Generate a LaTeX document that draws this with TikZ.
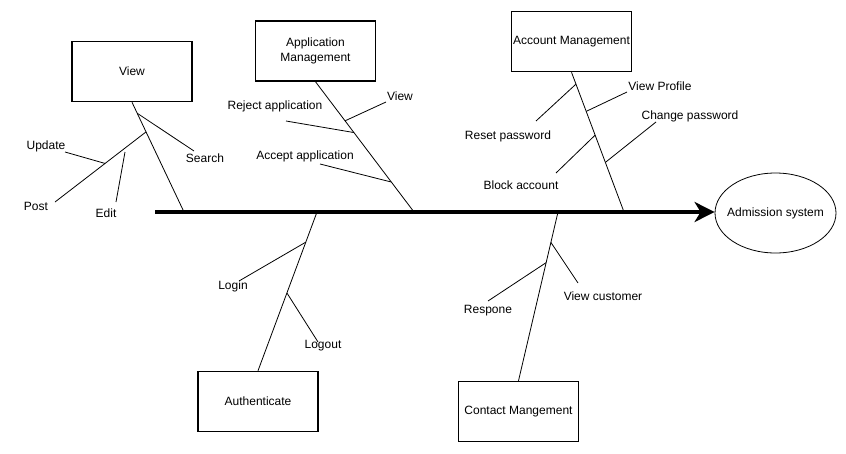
\documentclass[tikz,border=0pt]{standalone}
\usepackage{fontspec}
\setmainfont{Liberation Sans}
\usetikzlibrary{arrows.meta,shapes.geometric,calc}

\begin{document}
\begin{tikzpicture}[x=1pt,y=-1pt,font=\fontsize{12}{15}\selectfont,
    box/.style={draw, line width=1.5pt, minimum width=120pt, minimum height=60pt, inner sep=0pt, align=center},
    bone/.style={line width=0.8pt},
    lbl/.style={inner sep=1pt}]
	  % Canvas
	  \useasboundingbox (0,0) rectangle (846,453);
	  \def\spiney{212}
	
	  % Head of the fish
	  \node[ellipse, draw, line width=0.8pt, minimum width=121pt, minimum height=80pt, inner xsep=-6pt, inner ysep=0pt] (sys) at (775.5,213) {Admission system};
	
	  % Spine
	  \coordinate (tail) at (155,\spiney);
	  \draw[line width=3.5pt, -{Stealth[length=20pt,width=20pt,inset=6pt]}] (tail) -- (tail -| sys.west);
	
	  % Category boxes
	  \node[box] (view) at (132,71.5) {View};
	  \node[box] (appm) at (315.5,51) {Application\\Management};
	  \node[box] (acct) at (571.5,41.5) {Account Management};
	  \node[box] (auth) at (258,401.5) {Authenticate};
	  \node[box] (cont) at (518.5,411.5) {Contact Mangement};
	
	  % Main bones
	  \coordinate (v0) at (184,\spiney);
	  \coordinate (p0) at (414,\spiney);
	  \coordinate (c0) at (624,\spiney);
	  \coordinate (a0) at (317,\spiney);
	  \coordinate (m0) at (558,\spiney);
	  \draw[bone] (view.south) -- (v0);
	  \draw[bone] (appm.south) -- (p0);
	  \draw[bone] (acct.south) -- (c0);
	  \draw[bone] (a0) -- (auth.north);
	  \draw[bone] (m0) -- (cont.north);
	
	  % View branches
	  \coordinate (vsearch) at ($(view.south)!0.10!(v0)$);
	  \coordinate (vpost) at ($(view.south)!0.27!(v0)$);
	  \coordinate (vpostend) at (55,202);
	  \coordinate (vupd) at ($(vpost)!0.45!(vpostend)$);
	  \draw[bone] (vsearch) -- (194,151);
	  \draw[bone] (vpost) -- (vpostend);
	  \draw[bone] (65,152) -- (vupd);
	  \draw[bone] (125,152) -- (116,202);
	  \node[lbl] (search) at (205,158) {Search};
	  \node[lbl] (update) at (46,146) {Update};
	  \node[lbl] (post) at (36,206) {Post};
	  \node[lbl] (edit) at (106,213) {Edit};
	
	  % Application Management branches
	  \coordinate (pview) at ($(appm.south)!0.30!(p0)$);
	  \coordinate (preject) at ($(appm.south)!0.39!(p0)$);
	  \coordinate (paccept) at ($(appm.south)!0.77!(p0)$);
	  \draw[bone] (pview) -- (386,102);
	  \draw[bone] (286,121) -- (preject);
	  \draw[bone] (320,164) -- (paccept);
	  \node[lbl] (appview) at (400,96) {View};
	  \node[lbl] (reject) at (275,106) {Reject application};
	  \node[lbl] (accept) at (305,156) {Accept application};
	
	  % Account Management branches
	  \coordinate (creset) at ($(acct.south)!0.085!(c0)$);
	  \coordinate (cprofile) at ($(acct.south)!0.28!(c0)$);
	  \coordinate (cblock) at ($(acct.south)!0.45!(c0)$);
	  \coordinate (cchange) at ($(acct.south)!0.645!(c0)$);
	  \draw[bone] (creset) -- (536,121);
	  \draw[bone] (cprofile) -- (627,92);
	  \draw[bone] (cblock) -- (556,173);
	  \draw[bone] (cchange) -- (656,122);
	  \node[lbl] (reset) at (508,136) {Reset password};
	  \node[lbl] (profile) at (660,86) {View Profile};
	  \node[lbl] (block) at (521,185) {Block account};
	  \node[lbl] (change) at (690,116) {Change password};
	
	  % Authenticate branches
	  \coordinate (alogin) at ($(a0)!0.19!(auth.north)$);
	  \coordinate (alogout) at ($(a0)!0.51!(auth.north)$);
	  \draw[bone] (alogin) -- (239,281);
	  \draw[bone] (alogout) -- (318,342);
	  \node[lbl] (login) at (233,286) {Login};
	  \node[lbl] (logout) at (323,346) {Logout};
	
	  % Contact Mangement branches
	  \coordinate (mcust) at ($(m0)!0.18!(cont.north)$);
	  \coordinate (mresp) at ($(m0)!0.30!(cont.north)$);
	  \draw[bone] (mcust) -- (578,283);
	  \draw[bone] (mresp) -- (488,301);
	  \node[lbl] (customer) at (603,296) {View customer};
	  \node[lbl] (respone) at (488,311) {Respone};
	\end{tikzpicture}
\end{document}
